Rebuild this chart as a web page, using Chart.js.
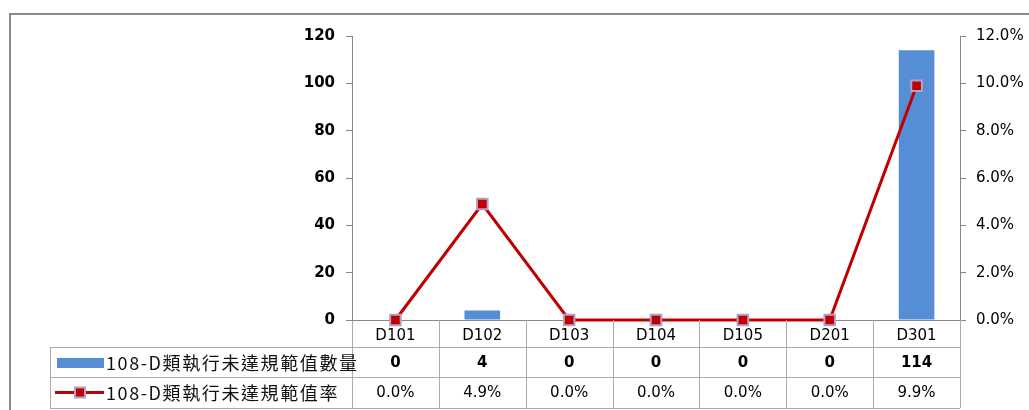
<!DOCTYPE html>
<html>
<head>
<meta charset="utf-8">
<script src="https://cdn.jsdelivr.net/npm/chart.js@4.4.1/dist/chart.umd.min.js"></script>
<style>
  html, body { margin: 0; padding: 0; background: #fff; }
  #wrap { width: 1029px; height: 410px; }
</style>
</head>
<body>
<div id="wrap"><canvas id="combo-chart" width="1029" height="410"></canvas></div>
<script>
const categories = ['D101', 'D102', 'D103', 'D104', 'D105', 'D201', 'D301'];
const countValues = [0, 4, 0, 0, 0, 0, 114];
const rateValues = [0.0, 0.049, 0.0, 0.0, 0.0, 0.0, 0.099];
const countLabel = '108-D類執行未達規範值數量';
const rateLabel = '108-D類執行未達規範值率';

const axisGray = '#868686';
const tableGray = '#ABABAB';
const barBlue = '#558ED5';
const lineRed = '#C00000';
const markerEdge = '#B3A2C7';

const pct = v => (v * 100).toFixed(1) + '%';

// outer frame of the chart object
const framePlugin = {
  id: 'frame',
  beforeDraw(chart) {
    const ctx = chart.ctx;
    ctx.save();
    ctx.fillStyle = '#fff';
    ctx.fillRect(0, 0, chart.width, chart.height);
    ctx.strokeStyle = '#8A8A8A';
    ctx.lineWidth = 2;
    ctx.beginPath();
    ctx.moveTo(10, chart.height + 5);
    ctx.lineTo(10, 14);
    ctx.lineTo(chart.width + 5, 14);
    ctx.stroke();
    ctx.restore();
  }
};

// data table under the x axis, with legend keys
const tablePlugin = {
  id: 'dataTable',
  afterDraw(chart) {
    const ctx = chart.ctx;
    const x = chart.scales.x;
    const base = chart.chartArea.bottom;
    const r1 = base + 27, r2 = base + 57, r3 = base + 88;
    const tableLeft = 50;
    const n = categories.length;
    const step = (x.right - x.left) / n;

    ctx.save();
    ctx.strokeStyle = tableGray;
    ctx.lineWidth = 1;
    ctx.beginPath();
    [r1, r2, r3].forEach(y => {
      ctx.moveTo(tableLeft, y + 0.5);
      ctx.lineTo(x.right, y + 0.5);
    });
    ctx.moveTo(tableLeft + 0.5, r1);
    ctx.lineTo(tableLeft + 0.5, r3);
    for (let i = 0; i <= n; i++) {
      const bx = Math.round(x.left + i * step) + 0.5;
      ctx.moveTo(bx, i === 0 ? base + 1 : base);
      ctx.lineTo(bx, r3);
    }
    ctx.stroke();

    ctx.textAlign = 'center';
    ctx.textBaseline = 'middle';
    ctx.fillStyle = '#000';
    categories.forEach((c, i) => {
      const cx = x.getPixelForValue(i);
      ctx.font = 'bold 15px "DejaVu Sans"';
      ctx.fillText(String(countValues[i]), cx, (r1 + r2) / 2 + 1);
      ctx.font = '15px "DejaVu Sans"';
      ctx.fillText(pct(rateValues[i]), cx, (r2 + r3) / 2 + 1);
    });

    // legend keys
    const y1 = (r1 + r2) / 2, y2 = (r2 + r3) / 2;
    ctx.fillStyle = barBlue;
    ctx.fillRect(57, y1 - 4, 47, 10);
    ctx.strokeStyle = lineRed;
    ctx.lineWidth = 3;
    ctx.beginPath();
    ctx.moveTo(55, y2);
    ctx.lineTo(104, y2);
    ctx.stroke();
    ctx.fillStyle = lineRed;
    ctx.strokeStyle = markerEdge;
    ctx.lineWidth = 2;
    ctx.fillRect(75, y2 - 5, 10, 10);
    ctx.strokeRect(75, y2 - 5, 10, 10);

    ctx.textAlign = 'left';
    ctx.fillStyle = '#111';
    ctx.font = '18px "Noto Sans CJK TC"';
    if ('letterSpacing' in ctx) ctx.letterSpacing = '1.6px';
    ctx.fillText(countLabel, 106, y1 + 1);
    ctx.fillText(rateLabel, 106, y2 + 1);
    ctx.restore();
  }
};

const ctx = document.getElementById('combo-chart').getContext('2d');
const chart = new Chart(ctx, {
  type: 'bar',
  data: {
    labels: categories,
    datasets: [
      {
        type: 'line',
        label: rateLabel,
        data: rateValues,
        yAxisID: 'y1',
        borderColor: lineRed,
        borderWidth: 3,
        tension: 0,
        pointStyle: 'rect',
        pointRadius: 7.5,
        pointBackgroundColor: lineRed,
        pointBorderColor: markerEdge,
        pointBorderWidth: 2,
        clip: false,
        order: 0,
      },
      {
        type: 'bar',
        label: countLabel,
        data: countValues,
        yAxisID: 'y',
        backgroundColor: barBlue,
        barPercentage: 0.41,
        categoryPercentage: 1.0,
        order: 1,
      },
    ],
  },
  options: {
    responsive: false,
    animation: false,
    layout: { padding: { left: 0, right: 0, top: 36, bottom: 63 } },
    plugins: {
      legend: { display: false },
      tooltip: { enabled: false },
    },
    scales: {
      x: {
        grid: { display: false },
        border: { display: true, color: axisGray, width: 1 },
        ticks: {
          color: '#000',
          font: { family: 'DejaVu Sans', size: 15 },
          padding: -1,
          maxRotation: 0,
        },
        afterFit(scale) { scale.height = 27; },
      },
      y: {
        position: 'left',
        min: 0,
        max: 120,
        ticks: {
          stepSize: 20,
          color: '#000',
          font: { family: 'DejaVu Sans', size: 15, weight: 'bold' },
          padding: 11,
        },
        grid: { drawOnChartArea: false, drawTicks: true, tickLength: 6, color: axisGray },
        border: { display: true, color: axisGray, width: 1 },
        afterFit(scale) { scale.width = 352; },
      },
      y1: {
        position: 'right',
        min: 0,
        max: 0.12,
        ticks: {
          stepSize: 0.02,
          color: '#000',
          font: { family: 'DejaVu Sans', size: 15 },
          padding: 10,
          callback: v => pct(v),
        },
        grid: { drawOnChartArea: false, drawTicks: true, tickLength: 6, color: axisGray },
        border: { display: true, color: axisGray, width: 1 },
        afterFit(scale) { scale.width = 69; },
      },
    },
  },
  plugins: [framePlugin, tablePlugin],
});
</script>
</body>
</html>
